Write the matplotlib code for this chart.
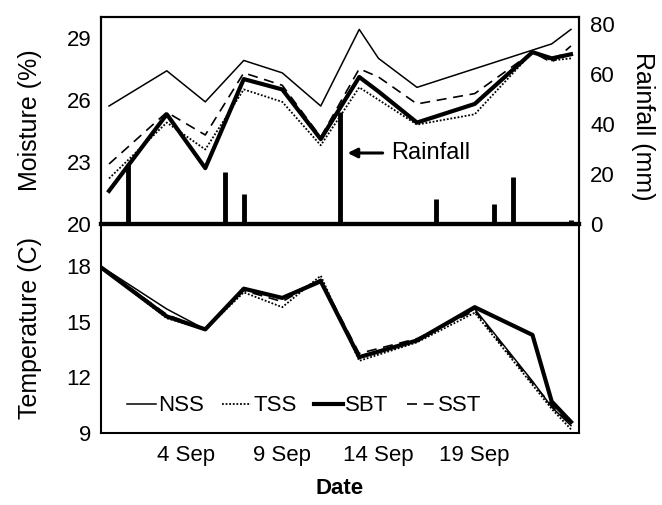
import matplotlib
matplotlib.use('Agg')
import matplotlib.pyplot as plt
import pandas as pd

plt.rcParams['font.family'] = ['Liberation Sans', 'DejaVu Sans']

# moisture (%) - top panel
moist_dates = pd.to_datetime(['2000-08-31', '2000-09-03', '2000-09-05', '2000-09-07', '2000-09-09',
                              '2000-09-11', '2000-09-13', '2000-09-14', '2000-09-16', '2000-09-19',
                              '2000-09-22', '2000-09-23', '2000-09-24'])
moist_nss = [25.7, 27.4, 25.9, 27.9, 27.3, 25.7, 29.4, 28.0, 26.6, 27.5, 28.4, 28.7, 29.4]
moist_tss = [22.2, 24.9, 23.6, 26.5, 25.9, 23.8, 26.6, 26.0, 24.8, 25.3, 28.3, 27.9, 28.0]
moist_sbt = [21.6, 25.3, 22.7, 27.0, 26.5, 24.1, 27.1, 26.4, 24.9, 25.8, 28.3, 28.0, 28.2]
moist_sst = [22.9, 25.4, 24.3, 27.3, 26.7, 24.2, 27.5, 27.1, 25.8, 26.3, 28.3, 27.8, 28.6]

# rainfall (mm)
rain_dates = pd.to_datetime(['2000-09-01', '2000-09-06', '2000-09-07', '2000-09-12',
                             '2000-09-17', '2000-09-20', '2000-09-21', '2000-09-24'])
rain_mm = [24, 21, 12, 45, 10, 8, 19, 1.5]

# temperature (C) - bottom panel
temp_dates = pd.to_datetime(['2000-08-30', '2000-09-03', '2000-09-05', '2000-09-07', '2000-09-09',
                             '2000-09-11', '2000-09-13', '2000-09-16', '2000-09-19', '2000-09-22',
                             '2000-09-23', '2000-09-24'])
temp_nss = [18.4, 15.7, 14.6, 16.8, 16.3, 17.3, 13.1, 14.0, 15.7, 11.8, 10.4, 9.4]
temp_tss = [18.4, 15.2, 14.6, 16.6, 15.8, 17.5, 12.9, 13.9, 15.5, 11.6, 10.3, 9.2]
temp_sbt = [18.4, 15.3, 14.6, 16.8, 16.3, 17.2, 13.1, 14.0, 15.8, 14.3, 10.7, 9.6]
temp_sst = [18.4, 15.4, 14.6, 16.7, 16.1, 17.3, 13.3, 14.1, 15.6, 11.7, 10.5, 9.4]

tick_dates = pd.to_datetime(['2000-09-04', '2000-09-09', '2000-09-14', '2000-09-19'])
tick_labels = ['4 Sep', '9 Sep', '14 Sep', '19 Sep']

styles = {
    'NSS': dict(color='k', lw=1.1, ls='-'),
    'TSS': dict(color='k', lw=1.3, ls=(0, (1, 1))),
    'SBT': dict(color='k', lw=3.0, ls='-'),
    'SST': dict(color='k', lw=1.2, ls=(0, (6, 4))),
}

fig = plt.figure(figsize=(6.62, 5.05), dpi=100)
ax1 = fig.add_axes([0.1526, 0.5564, 0.722, 0.41])
ax3 = fig.add_axes([0.1526, 0.1426, 0.722, 0.414], sharex=ax1)
ax2 = ax1.twinx()

# rainfall bars
ax2.vlines(rain_dates, 0, rain_mm, color='k', lw=3.5)
ax2.set_ylim(0, 83)
ax2.set_yticks([0, 20, 40, 60, 80])

for name, vals in zip(['NSS', 'TSS', 'SBT', 'SST'], [moist_nss, moist_tss, moist_sbt, moist_sst]):
    ax1.plot(moist_dates, vals, **styles[name])
ax1.set_zorder(ax2.get_zorder() + 1)
ax1.patch.set_visible(False)
ax1.set_ylim(20, 30)
ax1.set_yticks([20, 23, 26, 29])
ax1.set_ylabel('Moisture (%)', fontsize=18)
ax1.yaxis.set_label_coords(-0.123, 0.5)

lines = []
for name, vals in zip(['NSS', 'TSS', 'SBT', 'SST'], [temp_nss, temp_tss, temp_sbt, temp_sst]):
    ln, = ax3.plot(temp_dates, vals, label=name, **styles[name])
    lines.append(ln)
ax3.set_ylim(9, 20.3)
ax3.set_yticks([9, 12, 15, 18])
ax3.set_ylabel('Temperature (C)', fontsize=18)
ax3.yaxis.set_label_coords(-0.123, 0.5)

ax3.set_xlim(pd.Timestamp('2000-08-30 14:00'), pd.Timestamp('2000-09-24 10:00'))
ax3.set_xticks(tick_dates)
ax3.set_xticklabels(tick_labels)
ax3.set_xlabel('Date', fontsize=16, fontweight='bold')
ax3.xaxis.set_label_coords(0.5, -0.215)
plt.setp(ax1.get_xticklabels(), visible=False)

ax3.legend(handles=lines, loc='center left', bbox_to_anchor=(0.055, 0.13), ncol=4,
           frameon=False, fontsize=16, handlelength=1.3, handletextpad=0.1,
           columnspacing=0.8, borderaxespad=0, borderpad=0)

# arrow + label for rainfall
ax1.annotate('', xy=(0.51, 0.343), xytext=(0.595, 0.343), xycoords='axes fraction',
             arrowprops=dict(arrowstyle='-|>', lw=2.2, color='k', mutation_scale=14))
ax1.text(0.608, 0.343, 'Rainfall', transform=ax1.transAxes, fontsize=17, va='center', ha='left')

fig.text(0.972, 0.75, 'Rainfall (mm)', rotation=270, fontsize=18, ha='center', va='center')

for ax in (ax1, ax2, ax3):
    for s in ax.spines.values():
        s.set_linewidth(1.5)
    ax.tick_params(labelsize=16, length=0)
ax1.spines['bottom'].set_linewidth(3)
ax2.spines['bottom'].set_linewidth(3)
ax3.spines['top'].set_visible(False)
ax1.tick_params(axis='y', pad=7)
ax3.tick_params(axis='y', pad=7)
ax3.tick_params(axis='x', pad=9)
ax2.tick_params(axis='y', pad=8)

fig.savefig('out.png', dpi=100)
